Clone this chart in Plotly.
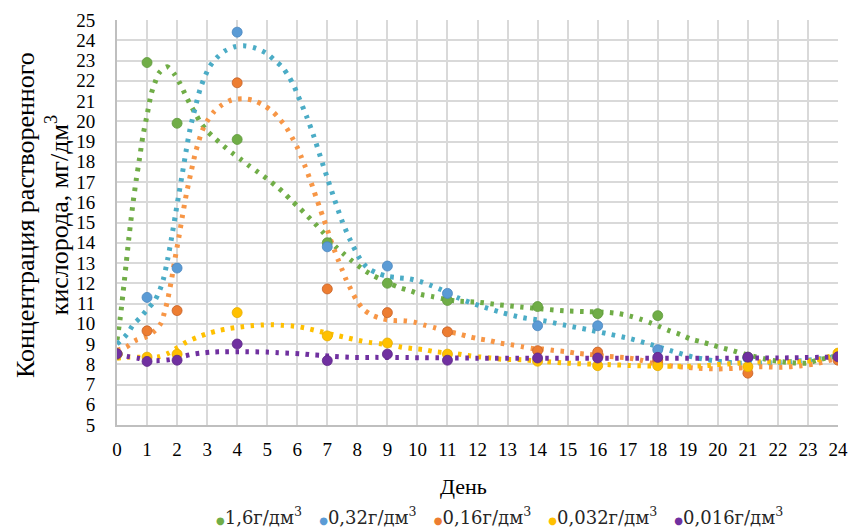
import plotly.graph_objects as go

# ---------------- data ----------------
days = [0, 1, 2, 4, 7, 9, 11, 14, 16, 18, 21, 24]

green_vals  = [8.5, 22.9, 19.9, 19.1, 14.0, 12.0, 11.15, 10.85, 10.5, 10.4, 8.35, 8.4]
blue_vals   = [8.5, 11.3, 12.75, 24.4, 13.8, 12.85, 11.5, 9.9, 9.9, 8.72, 8.3, 8.4]
orange_vals = [8.5, 9.65, 10.65, 21.9, 11.72, 10.55, 9.6, 8.67, 8.6, 8.2, 7.56, 8.2]
yellow_vals = [8.5, 8.35, 8.5, 10.55, 9.4, 9.05, 8.5, 8.15, 7.93, 7.93, 7.88, 8.55]
purple_vals = [8.52, 8.14, 8.2, 9.0, 8.18, 8.5, 8.2, 8.31, 8.31, 8.34, 8.35, 8.37]

# trend curves (dotted)
green_tx = [0, 0.1, 0.2, 0.3, 0.4, 0.54, 0.64, 0.75, 0.86, 1.0, 1.14, 1.26, 1.4, 1.67, 1.92,
            2.1, 2.26, 2.42, 2.6, 2.78, 3.0, 3.27, 3.54, 3.82, 4.12, 4.4, 4.7, 5.0, 5.28, 5.55,
            5.8, 6.07, 6.33, 6.58, 6.83, 7.29, 7.57, 7.84, 8.13, 8.42, 8.76, 9.08, 9.42, 9.78,
            10.1, 10.47, 10.83, 11.3, 11.99, 12.7, 13.44, 14.17, 14.89, 15.62, 16.34, 16.7,
            17.07, 17.42, 17.75, 18.09, 18.42, 18.77, 19.11, 19.47, 19.82, 20.17, 20.51, 20.86,
            21.2, 21.57, 22.0, 22.6, 23.0, 23.3, 23.7, 24]
green_ty = [9.2, 10.2, 11.5, 12.9, 14.3, 16.04, 17.11, 18.17, 19.25, 20.3, 21.36, 21.89, 22.38, 22.69, 22.31,
            21.85, 21.36, 20.87, 20.41, 19.94, 19.52, 19.14, 18.79, 18.45, 18.12, 17.8, 17.48, 17.15, 16.82, 16.47,
            16.1, 15.72, 15.34, 14.96, 14.56, 13.79, 13.42, 13.08, 12.75, 12.47, 12.21, 11.98, 11.78, 11.62,
            11.45, 11.35, 11.24, 11.12, 11.07, 10.94, 10.83, 10.73, 10.64, 10.6, 10.56, 10.5,
            10.38, 10.23, 10.05, 9.84, 9.64, 9.46, 9.24, 9.1, 8.95, 8.8, 8.67, 8.51,
            8.39, 8.26, 8.15, 8.06, 8.06, 8.2, 8.33, 8.42]

blue_tx = [0, 0.34, 0.53, 0.79, 1.0, 1.26, 1.42, 1.54, 1.69, 1.82, 1.94, 2.06, 2.18, 2.3, 2.43,
           2.6, 2.79, 3.08, 3.31, 3.59, 3.92, 4.28, 4.63, 4.96, 5.24, 5.51, 5.72, 5.89, 6.03,
           6.31, 6.56, 6.78, 7.01, 7.24, 7.48, 7.76, 8.09, 8.32, 8.64, 9.0, 9.37, 9.72, 10.08,
           10.42, 10.76, 11.37, 12.07, 12.79, 13.5, 14.23, 14.94, 15.67, 16.38, 17.09, 17.78,
           18.48, 19.16, 19.9, 20.66, 21.8, 22.5, 23.2, 24]
blue_ty = [9.0, 9.49, 9.94, 10.33, 10.7, 11.15, 11.65, 12.18, 13.21, 14.28, 15.34, 16.41, 17.46, 18.53, 19.6,
           20.65, 21.69, 22.69, 23.12, 23.47, 23.68, 23.72, 23.6, 23.37, 23.02, 22.66, 22.2, 21.74, 21.25,
           20.24, 19.22, 18.2, 17.16, 16.14, 15.12, 14.14, 13.2, 12.78, 12.51, 12.34, 12.27, 12.22, 12.09,
           11.91, 11.7, 11.27, 10.89, 10.56, 10.3, 10.14, 9.92, 9.71, 9.49, 9.26, 8.97,
           8.65, 8.36, 8.17, 8.06, 8.08, 8.14, 8.23, 8.4]

orange_tx = [0, 0.31, 0.6, 0.96, 1.26, 1.47, 1.58, 1.67, 1.81, 1.93, 2.06, 2.18, 2.31, 2.46, 2.62,
             2.84, 3.0, 3.22, 3.49, 3.81, 4.18, 4.53, 4.87, 5.17, 5.42, 5.64, 5.82, 5.99, 6.13,
             6.27, 6.4, 6.52, 6.64, 6.76, 6.88, 7.0, 7.11, 7.23, 7.36, 7.5, 7.63, 7.79, 7.96,
             8.18, 8.48, 8.83, 9.19, 9.53, 9.89, 10.24, 10.6, 10.96, 11.32, 11.67, 12.03, 12.39,
             12.74, 13.1, 13.47, 13.82, 14.18, 14.54, 14.91, 15.27, 15.62, 16.34, 17.07, 17.44,
             17.8, 18.17, 18.52, 18.9, 19.27, 19.97, 20.68, 21.4, 22.1, 22.8, 23.2, 23.5, 24]
orange_ty = [8.7, 8.85, 9.16, 9.35, 9.66, 10.04, 10.57, 11.07, 12.14, 13.2, 14.28, 15.34, 16.41, 17.46, 18.5,
             19.54, 20.0, 20.46, 20.8, 21.05, 21.11, 21.03, 20.8, 20.49, 20.1, 19.68, 19.22, 18.74, 18.25,
             17.74, 17.23, 16.72, 16.19, 15.68, 15.17, 14.66, 14.15, 13.66, 13.16, 12.65, 12.17, 11.68, 11.2,
             10.74, 10.43, 10.25, 10.16, 10.15, 10.08, 9.93, 9.79, 9.62, 9.52, 9.38, 9.26, 9.17,
             9.05, 8.97, 8.87, 8.78, 8.75, 8.68, 8.63, 8.55, 8.5, 8.39, 8.3, 8.2,
             8.06, 7.98, 7.9, 7.86, 7.81, 7.77, 7.81, 7.88, 7.85, 7.93, 8.01, 8.11, 8.3]

yellow_tx = [0, 0.34, 0.7, 1.05, 1.39, 1.72, 2.02, 2.33, 2.67, 3.0, 3.37, 3.72, 4.09, 4.44, 4.81,
             5.18, 5.53, 5.9, 6.26, 6.61, 7.32, 7.68, 8.04, 8.4, 8.77, 9.13, 9.49, 9.86, 10.22,
             10.58, 11.3, 11.66, 12.07, 12.43, 12.79, 13.5, 14.2, 14.93, 15.3, 16.4, 17.07, 18.15,
             18.9, 19.6, 19.95, 20.3, 20.7, 21.4, 22.1, 22.8, 23.2, 23.6, 24]
yellow_ty = [8.3, 8.35, 8.35, 8.33, 8.37, 8.55, 8.83, 9.11, 9.33, 9.51, 9.66, 9.76, 9.84, 9.9, 9.94,
             9.95, 9.92, 9.88, 9.79, 9.67, 9.42, 9.3, 9.18, 9.08, 9.01, 8.95, 8.84, 8.77, 8.72,
             8.62, 8.52, 8.43, 8.36, 8.31, 8.25, 8.22, 8.14, 8.06, 8.03, 7.98, 7.94, 7.9,
             7.9, 7.93, 7.98, 8.01, 8.06, 8.12, 8.12, 8.14, 8.19, 8.33, 8.55]

purple_tx = [0, 0.34, 0.7, 1.03, 1.39, 1.76, 2.1, 2.44, 2.8, 3.16, 3.53, 4.26, 4.99, 5.36, 6.1,
             6.44, 6.8, 7.17, 7.89, 8.6, 9.7, 11.14, 12, 14, 16, 18, 20, 22, 24]
purple_ty = [8.52, 8.39, 8.3, 8.2, 8.18, 8.23, 8.35, 8.47, 8.55, 8.6, 8.62, 8.62, 8.6, 8.57, 8.52,
             8.47, 8.44, 8.39, 8.34, 8.34, 8.33, 8.31, 8.3, 8.3, 8.3, 8.3, 8.3, 8.31, 8.36]

legend_names = ["1,6г/дм<sup>3</sup>", "0,32г/дм<sup>3</sup>", "0,16г/дм<sup>3</sup>",
                "0,032г/дм<sup>3</sup>", "0,016г/дм<sup>3</sup>"]
x_ticks = list(range(0, 25))
y_ticks = list(range(5, 26))

# ---------------- styling ----------------
marker_colors = ["#70ad47", "#5b9bd5", "#ed7d31", "#ffc000", "#7030a0"]
marker_edges = ["#5f9a3c", "#4a86bf", "#c4622a", "#e6ad00", "#5e2888"]
trend_colors = ["#70ad47", "#4bacc6", "#f79646", "#ffc000", "#7030a0"]
FONT = "Liberation Serif"
LEGEND_FONT = "DejaVu Serif"

W, H = 851, 530
ML, MR, MT, MB = 117, 13, 20, 105
PW, PH = W - ML - MR, H - MT - MB


def px_x(p):   # pixel -> paper x
    return (p - ML) / PW


def px_y(p):   # pixel -> paper y
    return 1 - (p - MT) / PH


fig = go.Figure()

trends = [(green_tx, green_ty), (blue_tx, blue_ty), (orange_tx, orange_ty),
          (yellow_tx, yellow_ty), (purple_tx, purple_ty)]
for (tx, ty), c in zip(trends, trend_colors):
    fig.add_trace(go.Scatter(x=tx, y=ty, mode="lines",
                             line=dict(color=c, width=5, dash="3.5px,6.5px", shape="spline", smoothing=0.8),
                             showlegend=False, hoverinfo="skip"))

series = [green_vals, blue_vals, orange_vals, yellow_vals, purple_vals]
for vals, c, e, name in zip(series, marker_colors, marker_edges, legend_names):
    fig.add_trace(go.Scatter(x=days, y=vals, mode="markers", name=name,
                             marker=dict(color=c, size=10, line=dict(color=e, width=0.8)),
                             showlegend=False))

# legend drawn as one row of entries below the chart
gap = "\u00a0\u00a0\u00a0"
legend_text = gap.join('<span style="color:%s;font-size:10px">●</span>%s' % (c, n)
                       for c, n in zip(marker_colors, legend_names))

annotations = [
    dict(text="Концентрация растворенного<br>кислорода, мг/дм<sup>3</sup>",
         x=px_x(43), y=px_y(215), xref="paper", yref="paper", xanchor="center", yanchor="middle",
         textangle=-90, showarrow=False, font=dict(family=FONT, size=26, color="#000000")),
    dict(text="День", x=px_x(463), y=px_y(487), xref="paper", yref="paper",
         xanchor="center", yanchor="middle", showarrow=False,
         font=dict(family=FONT, size=22, color="#000000")),
    dict(text=legend_text, x=px_x(499), y=px_y(516), xref="paper", yref="paper",
         xanchor="center", yanchor="middle", showarrow=False,
         font=dict(family=LEGEND_FONT, size=18, color="#262626")),
]

fig.update_layout(
    width=W, height=H,
    margin=dict(l=ML, r=MR, t=MT, b=MB),
    paper_bgcolor="white", plot_bgcolor="white",
    font=dict(family=FONT, size=19, color="#000000"),
    showlegend=False,
    annotations=annotations,
)

fig.update_xaxes(range=[0, 24], tickvals=x_ticks, ticktext=[str(v) for v in x_ticks],
                 showgrid=True, gridcolor="#d9d9d9", gridwidth=1.5,
                 showline=True, linecolor="#bfbfbf", linewidth=2, zeroline=False,
                 ticks="", ticklabelstandoff=6, tickfont=dict(family=FONT, size=19, color="#000000"),
                 automargin=False)
fig.update_yaxes(range=[5, 25], tickvals=y_ticks, ticktext=[str(v) for v in y_ticks],
                 showgrid=True, gridcolor="#d9d9d9", gridwidth=1.5,
                 showline=True, linecolor="#bfbfbf", linewidth=2, zeroline=False,
                 ticks="", ticklabelstandoff=16, tickfont=dict(family=FONT, size=19, color="#000000"),
                 automargin=False)

fig.write_html("out.html")
